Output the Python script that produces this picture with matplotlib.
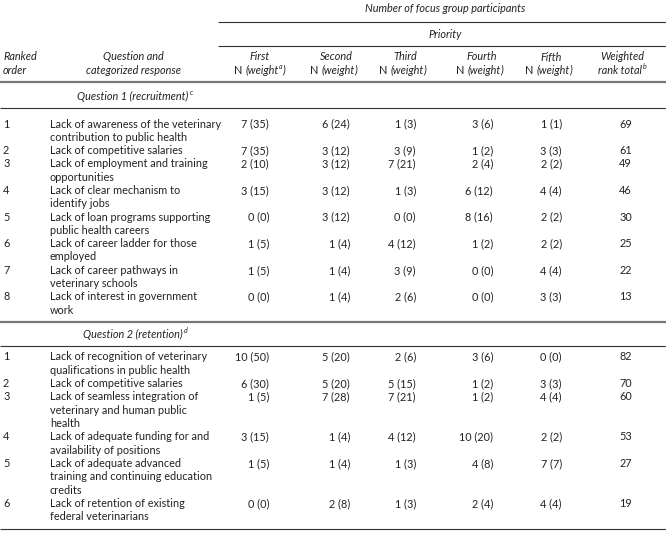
import matplotlib
matplotlib.use('Agg')
import matplotlib.pyplot as plt

plt.rcParams['font.family'] = ['Lato', 'DejaVu Sans']

# table content
priorities = ['First', 'Second', 'Third', 'Fourth', 'Fifth']
weight_marks = ['a', '', '', '', '']

q1_title = 'Question 1 (recruitment)'
q1_responses = [
    'Lack of awareness of the veterinary\ncontribution to public health',
    'Lack of competitive salaries',
    'Lack of employment and training\nopportunities',
    'Lack of clear mechanism to\nidentify jobs',
    'Lack of loan programs supporting\npublic health careers',
    'Lack of career ladder for those\nemployed',
    'Lack of career pathways in\nveterinary schools',
    'Lack of interest in government\nwork',
]
q1_n = [[7, 6, 1, 3, 1], [7, 3, 3, 1, 3], [2, 3, 7, 2, 2], [3, 3, 1, 6, 4],
        [0, 3, 0, 8, 2], [1, 1, 4, 1, 2], [1, 1, 3, 0, 4], [0, 1, 2, 0, 3]]
q1_w = [[35, 24, 3, 6, 1], [35, 12, 9, 2, 3], [10, 12, 21, 4, 2], [15, 12, 3, 12, 4],
        [0, 12, 0, 16, 2], [5, 4, 12, 2, 2], [5, 4, 9, 0, 4], [0, 4, 6, 0, 3]]
q1_total = [69, 61, 49, 46, 30, 25, 22, 13]

q2_title = 'Question 2 (retention)'
q2_responses = [
    'Lack of recognition of veterinary\nqualifications in public health',
    'Lack of competitive salaries',
    'Lack of seamless integration of\nveterinary and human public\nhealth',
    'Lack of adequate funding for and\navailability of positions',
    'Lack of adequate advanced\ntraining and continuing education\ncredits',
    'Lack of retention of existing\nfederal veterinarians',
]
q2_n = [[10, 5, 2, 3, 0], [6, 5, 5, 1, 3], [1, 7, 7, 1, 4],
        [3, 1, 4, 10, 2], [1, 1, 1, 4, 7], [0, 2, 1, 2, 4]]
q2_w = [[50, 20, 6, 6, 0], [30, 20, 15, 2, 3], [5, 28, 21, 2, 4],
        [15, 4, 12, 20, 2], [5, 4, 3, 8, 7], [0, 8, 3, 4, 4]]
q2_total = [82, 70, 60, 53, 27, 19]

# layout (pixels)
W, H = 666, 540
FS = 7.8
TXT = '#222222'
col_center = [260, 336, 405, 482, 551, 622]
col_right = [269, 350, 416, 493, 562, 632]
lh = 13.3

fig = plt.figure(figsize=(W / 100, H / 100), dpi=100)
ax = fig.add_axes([0, 0, 1, 1])
ax.set_xlim(0, W)
ax.set_ylim(H, 0)
ax.axis('off')


def t(x, y, s, **kw):
    kw.setdefault('fontsize', FS)
    kw.setdefault('color', TXT)
    kw.setdefault('va', 'center')
    return ax.text(x, y, s, **kw)


def sup(anchor, s, dx=0.5):
    # small raised footnote letter after a text
    return ax.annotate(s, xy=(1, 1), xycoords=anchor, xytext=(dx, -1.2),
                       textcoords='offset points', fontsize=5, color=TXT,
                       ha='left', va='center', style='italic')


def after(anchor, s, dx=0.0, **kw):
    return ax.annotate(s, xy=(1, 0.5), xycoords=anchor, xytext=(dx, 0),
                       textcoords='offset points', fontsize=FS, color=TXT,
                       va='center', ha='left', **kw)


# header
t(445, 8, 'Number of focus group participants', ha='center', style='italic')
ax.hlines(22, 218, W, color='#333333', lw=0.8)
t(445, 34, 'Priority', ha='center', style='italic')
ax.hlines(46, 218, W, color='#333333', lw=0.8)

t(3, 57, 'Ranked', style='italic')
t(3, 70, 'order', style='italic')
t(133, 57, 'Question and', ha='center', style='italic')
t(133, 70, 'categorized response', ha='center', style='italic')
for i, name in enumerate(priorities):
    cx = col_center[i]
    t(cx, 57, name, ha='center', style='italic')
    n_txt = t(cx - 18, 70, 'N', ha='right')
    wt = after(n_txt, '(weight', dx=2.2, style='italic')
    if weight_marks[i]:
        sup(wt, weight_marks[i], dx=0.3)
        after(wt, ')', dx=3.0, style='italic')
    else:
        after(wt, ')', style='italic')
t(col_center[5], 57, 'Weighted', ha='center', style='italic')
rt = t(col_center[5] - 2, 70, 'rank total', ha='center', style='italic')
sup(rt, 'b')
ax.hlines(82, 0, W, color='#777777', lw=1.6)


def block(title, mark, y_title, y_line, y0, responses, n, w, total):
    tt = t(133, y_title, title, ha='center', style='italic')
    sup(tt, mark)
    ax.hlines(y_line, 0, W, color='#333333', lw=0.8)
    y = y0
    for r, resp in enumerate(responses):
        lines = resp.split('\n')
        t(3, y, str(r + 1))
        for k, line in enumerate(lines):
            t(50, y + k * lh, line)
        for c in range(5):
            t(col_right[c], y, f'{n[r][c]} ({w[r][c]})', ha='right')
        t(col_right[5], y, str(total[r]), ha='right')
        y += lh * len(lines)


block(q1_title, 'c', 96, 108, 124, q1_responses, q1_n, q1_w, q1_total)
ax.hlines(322, 0, W, color='#777777', lw=1.6)
block(q2_title, 'd', 334, 346, 357, q2_responses, q2_n, q2_w, q2_total)
ax.hlines(529, 0, W, color='#333333', lw=0.8)

fig.savefig('out.png', dpi=100)
